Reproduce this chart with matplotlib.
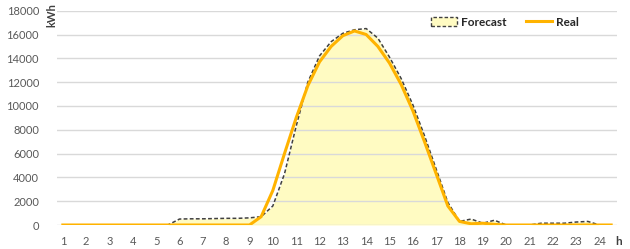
import numpy as np
import matplotlib
matplotlib.use('Agg')
from matplotlib import pyplot as plt
from matplotlib.patches import Patch
from matplotlib.lines import Line2D

plt.rcParams['font.family'] = ['Lato', 'DejaVu Sans']

# half-hour steps, labels shown every hour
hours = np.arange(1, 25, 0.5)
hour_labels = [str(h) for h in range(1, 25)]
y_ticks = list(range(0, 18001, 2000))

forecast = [0, 0, 0, 0, 0, 0, 0, 0, 0, 0,
            500, 520, 520, 540, 560, 560, 600, 700,
            1600, 4300, 8300, 12000, 14200, 15400, 16100, 16400,
            16500, 15700, 14100, 12300, 10100, 7500, 4700, 1900,
            300, 500, 150, 400,
            0, 0, 0, 150, 150, 150, 250, 300, 0, 0]

real = [0, 0, 0, 0, 0, 0, 0, 0, 0, 0, 0, 0, 0, 0, 0, 0, 0,
        700, 2900, 6000, 9000, 11700, 13700, 15000, 15900, 16300,
        16000, 15000, 13600, 11800, 9600, 7000, 4300, 1600,
        300, 100, 150, 50,
        0, 0, 0, 0, 0, 0, 0, 0, 0, 0]

fill_col = '#FFFBC2'
real_col = '#FFB300'
text_col = '#595959'

fig = plt.figure(figsize=(6.3, 2.49), dpi=100)
ax = fig.add_axes([57/630, 1 - 225/249, 560/630, 214.3/249])

ax.fill_between(hours, forecast, 0, color=fill_col, lw=0, zorder=0.3)
ax.plot(hours, forecast, color='#404040', lw=1.1, ls=(0, (2.5, 1.5)), zorder=2)
ax.plot(hours, real, color=real_col, lw=2.2, zorder=3, solid_joinstyle='round')

ax.set_xlim(0.75, 24.75)
ax.set_ylim(0, 18000)
ax.set_xticks(range(1, 25))
ax.set_xticklabels(hour_labels)
ax.set_yticks(y_ticks)
ax.set_yticklabels([str(v) for v in y_ticks])
ax.tick_params(length=0, labelsize=8, labelcolor=text_col)
ax.tick_params(axis='x', pad=8)
ax.tick_params(axis='y', pad=13)
ax.set_axisbelow(True)
ax.yaxis.grid(True, color='#D9D9D9', lw=1.0)
for s in ax.spines.values():
    s.set_visible(False)

fig.text(52/630, 1 - 3/249, 'kWh', rotation=90, ha='center', va='top',
         fontsize=8, fontweight='bold', color='#404040')
fig.text(619/630, 1 - 241/249, 'h', ha='center', va='center',
         fontsize=8.5, fontweight='bold', color='#404040')

handles = [Patch(facecolor=fill_col, edgecolor='#404040', ls=(0, (2.5, 1.5)), lw=1.0),
           Line2D([0], [0], color=real_col, lw=2.2)]
ax.legend(handles, ['Forecast', 'Real'], loc='upper left',
          bbox_to_anchor=(420/630, 1 - 6/249), bbox_transform=fig.transFigure,
          ncol=2, frameon=False, handlelength=2.2, handleheight=0.9,
          handletextpad=0.35, columnspacing=1.7,
          prop={'weight': 'bold', 'size': 8.5})
for t in ax.get_legend().get_texts():
    t.set_color('#262626')

fig.savefig('out.png', dpi=100)
